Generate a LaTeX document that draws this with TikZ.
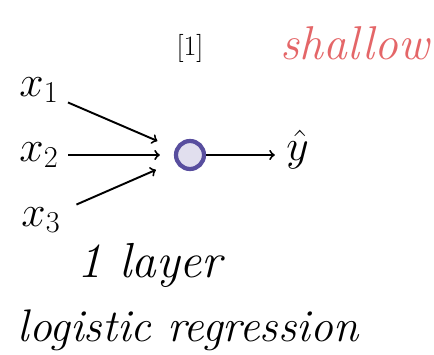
\documentclass[tikz,border=0pt]{standalone}
\usepackage{amsmath, amssymb}
\usepackage{tikz}
\usetikzlibrary{arrows, positioning}

\definecolor{penred}{RGB}{228,102,104}
\definecolor{penpurple}{RGB}{88,78,158}

\begin{document}
\begin{tikzpicture}[
        inp/.style={font=\fontsize{24}{28}\selectfont},
        note/.style={font=\fontsize{26}{30}\selectfont\itshape},
        unit/.style={circle, draw=penpurple, line width=2.4pt, fill=penpurple!18, minimum width=0.56cm, minimum height=0.56cm, inner sep=0pt},
        arrow/.style={line width=1.1pt, ->, >=to}
    ]
    \useasboundingbox (0,0) rectangle (8.68,-7.1);

    % Nodes
    \node (x1) [inp] at (0.78,-1.8) {$x_1$};
    \node (x2) [inp] at (0.78,-3.1) {$x_2$};
    \node (x3) [inp] at (0.82,-4.4) {$x_3$};
    \node (N) [unit] at (3.8,-3.1) {};
    \node (Y) [inp] at (5.95,-3.0) {$\hat{y}$};

    \node (L) [font=\fontsize{16}{18}\selectfont] at (3.8,-0.96) {[1]};
    \node (S) [note, text=penred, font=\fontsize{27}{30}\selectfont\itshape] at (7.1,-0.86) {shallow};

    \node (one) [note, font=\fontsize{28}{32}\selectfont\itshape] at (3.0,-5.3) {1 layer};
    \node (LR) [note, below=0.2cm of one.south west, anchor=north west, xshift=-1.2cm] {logistic regression};

    % Arrows
    \draw [arrow, shorten <=2pt, shorten >=11pt] (x1) -- (N);
    \draw [arrow, shorten <=2pt, shorten >=8pt] (x2) -- (N);
    \draw [arrow, shorten <=6pt, shorten >=12pt] (x3) -- (N);
    \draw [arrow, shorten >=3pt] (N) -- (N -| Y.west);

\end{tikzpicture}
\end{document}
